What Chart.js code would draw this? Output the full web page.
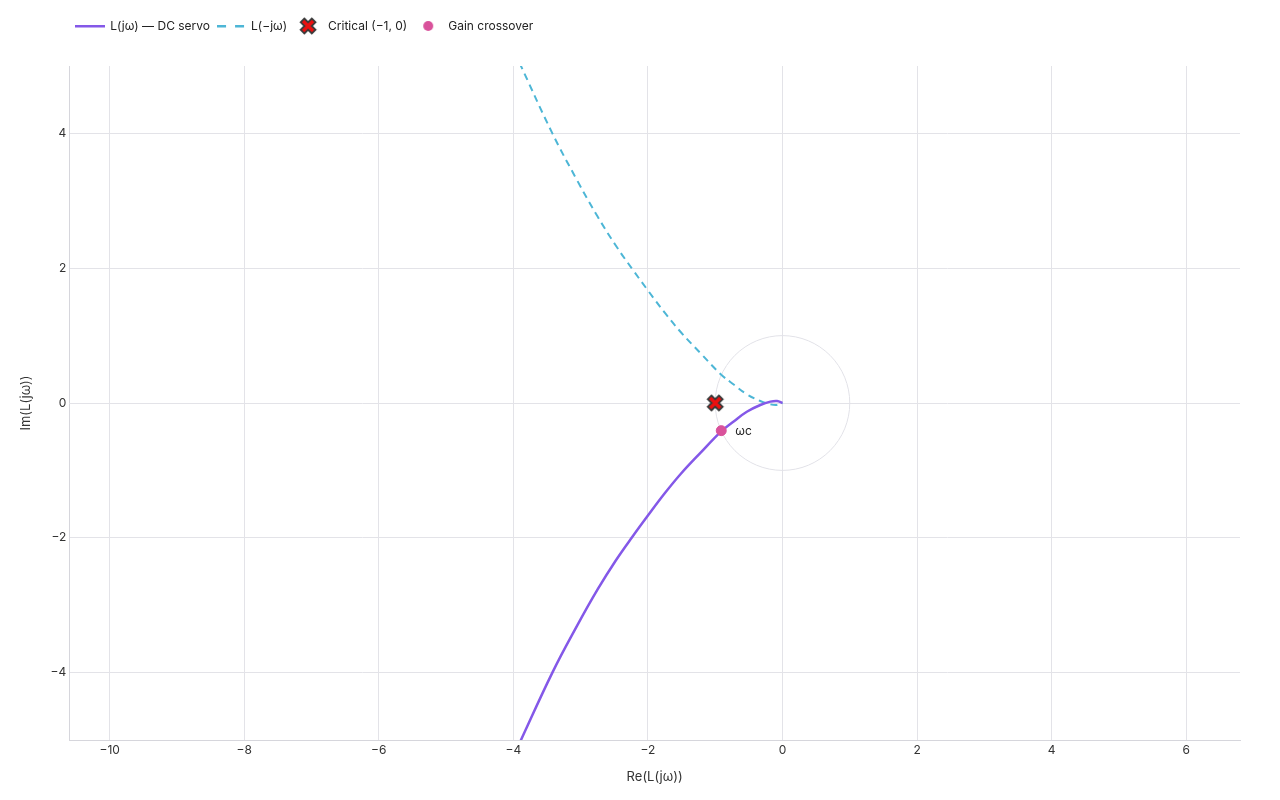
<!DOCTYPE html>
<html>
<head>
<meta charset="utf-8">
<script src="https://cdn.jsdelivr.net/npm/chart.js@4.4.1/dist/chart.umd.min.js"></script>
<style>
  html, body { margin: 0; padding: 0; background: #fff; }
  #wrap { width: 1280px; height: 800px; }
</style>
</head>
<body>
<div id="wrap"><canvas id="nyquist"></canvas></div>
<script>
/* ── data ── */
const RE_L = [-3.91, -3.42, -3.05, -2.75, -2.48, -2.22, -2.00, -1.75, -1.51, -1.22, -0.91, -0.72, -0.53, -0.33, -0.18, -0.08, 0.0];
const IM_L = [-5.05, -4.00, -3.30, -2.77, -2.34, -1.97, -1.67, -1.34, -1.05, -0.74, -0.42, -0.27, -0.13, -0.03, 0.02, 0.03, 0.0];
const CRITICAL  = [{ x: -1, y: 0 }];
const CROSSOVER = [{ x: -0.91, y: -0.41 }];
const X_TICKS = [-10, -8, -6, -4, -2, 0, 2, 4, 6];
const Y_TICKS = [-4, -2, 0, 2, 4];
const X_RANGE = [-10.6, 6.8];
const Y_RANGE = [-5, 5];
const UNIT_R  = 1;
const LABELS  = ['L(jω) — DC servo', 'L(−jω)', 'Critical (−1, 0)', 'Gain crossover'];

/* ── colours ── */
const C = {
  servo : '#8458e8',
  mirror: '#4db6d6',
  cross : '#d9529b',
  red   : '#ec1010',
  dark  : '#3a3a3a',
  grid  : '#e3e3e8',
  axis  : '#d6d6dc',
  ring  : '#e2e2e8',
  text  : '#222',
};

Chart.defaults.font  = { family: "Inter, 'Noto Sans', sans-serif", size: 12 };
Chart.defaults.color = '#333';

const fwd    = RE_L.map((x, i) => ({ x, y: IM_L[i] }));
const mirror = RE_L.map((x, i) => ({ x, y: -IM_L[i] }));   // L(-jw) = conj L(jw)

const minus = v => v < 0 ? '\u2212' + Math.abs(v) : String(v);

/* ── small canvas icons for markers and legend ── */
function icon(w, h, draw) {
  const c = document.createElement('canvas');
  c.width = w; c.height = h;
  draw(c.getContext('2d'), w, h);
  return c;
}
const xMark = icon(20, 20, (g, w, h) => {
  const cx = w / 2, cy = h / 2;
  [[C.dark, 7, 6.2], [C.red, 3.2, 5]].forEach(([col, lw, r]) => {
    g.strokeStyle = col; g.lineWidth = lw; g.lineCap = 'butt';
    g.beginPath();
    g.moveTo(cx - r, cy - r); g.lineTo(cx + r, cy + r);
    g.moveTo(cx + r, cy - r); g.lineTo(cx - r, cy + r);
    g.stroke();
  });
});
const solidIcon = icon(30, 4, (g, w) => {
  g.fillStyle = C.servo; g.fillRect(0, 1, w, 2.5);
});
const dashIcon = icon(28, 4, (g) => {
  g.fillStyle = C.mirror; g.fillRect(0, 1, 9, 2.5); g.fillRect(18, 1, 9, 2.5);
});
const dotIcon = icon(12, 12, (g) => {
  g.fillStyle = C.cross; g.beginPath(); g.arc(6, 6, 5, 0, Math.PI * 2); g.fill();
});
const legendIcons = [solidIcon, dashIcon, xMark, dotIcon];

/* ── plugins ── */
const legendGap = {
  id: 'legendGap',
  beforeInit(chart) {
    const fit = chart.legend.fit;
    chart.legend.fit = function () { fit.bind(chart.legend)(); this.height += 24; };
  }
};

const unitCircle = {
  id: 'unitCircle',
  beforeDatasetsDraw(chart) {
    const { ctx, chartArea: a, scales: { x, y } } = chart;
    const cx = x.getPixelForValue(0), cy = y.getPixelForValue(0);
    const rx = x.getPixelForValue(UNIT_R) - cx, ry = cy - y.getPixelForValue(UNIT_R);
    ctx.save();
    ctx.beginPath(); ctx.rect(a.left, a.top, a.width, a.height); ctx.clip();
    ctx.strokeStyle = C.ring; ctx.lineWidth = 1;
    ctx.beginPath(); ctx.ellipse(cx, cy, rx, ry, 0, 0, Math.PI * 2); ctx.stroke();
    ctx.restore();
  }
};

const wcLabel = {
  id: 'wcLabel',
  afterDatasetsDraw(chart) {
    const pt = chart.getDatasetMeta(3).data[0];
    if (!pt) return;
    const { ctx } = chart;
    ctx.save();
    ctx.font = "12px Inter, 'Noto Sans', sans-serif";
    ctx.fillStyle = C.text;
    ctx.textAlign = 'left'; ctx.textBaseline = 'middle';
    ctx.fillText('ωc', pt.x + 14, pt.y + 1);
    ctx.restore();
  }
};

/* ── chart ── */
new Chart(document.getElementById('nyquist'), {
  type: 'scatter',
  data: {
    datasets: [
      {
        label: LABELS[0], data: fwd, showLine: true,
        borderColor: C.servo, borderWidth: 2.5, tension: 0.4,
        pointRadius: 0, clip: 0, order: 2,
      },
      {
        label: LABELS[1], data: mirror, showLine: true,
        borderColor: C.mirror, borderWidth: 2, borderDash: [7, 5], tension: 0.4,
        pointRadius: 0, clip: 0, order: 3,
      },
      {
        label: LABELS[2], data: CRITICAL,
        pointStyle: xMark, pointRadius: 9, order: 1,
      },
      {
        label: LABELS[3], data: CROSSOVER,
        backgroundColor: C.cross, borderColor: C.cross,
        pointStyle: 'circle', pointRadius: 5, order: 0,
      },
    ]
  },
  options: {
    responsive: true,
    maintainAspectRatio: false,
    animation: false,
    layout: { padding: { top: 13, left: 10, right: 40, bottom: 10 } },
    plugins: {
      legend: {
        position: 'top', align: 'start', fullSize: false,
        labels: {
          usePointStyle: true, pointStyleWidth: 28, padding: 7,
          color: C.text, font: { size: 12 },
          generateLabels: () => LABELS.map((text, i) => ({
            text, pointStyle: legendIcons[i], datasetIndex: i,
            fillStyle: 'transparent', strokeStyle: 'transparent',
            lineWidth: 0, hidden: false, fontColor: C.text,
          })),
        },
      },
      tooltip: { enabled: false },
    },
    scales: {
      x: {
        type: 'linear', min: X_RANGE[0], max: X_RANGE[1],
        afterBuildTicks: s => { s.ticks = X_TICKS.map(value => ({ value })); },
        grid: { color: C.grid, drawTicks: false },
        border: { color: C.axis },
        ticks: { padding: 3, callback: minus, color: '#333' },
        title: { display: true, text: 'Re(L(jω))', color: '#333', font: { size: 13 },
                 padding: { top: 9, bottom: 5 } },
      },
      y: {
        type: 'linear', min: Y_RANGE[0], max: Y_RANGE[1],
        afterBuildTicks: s => { s.ticks = Y_TICKS.map(value => ({ value })); },
        grid: { color: C.grid, drawTicks: false },
        border: { color: C.axis },
        ticks: { padding: 3, callback: minus, color: '#333' },
        title: { display: true, text: 'Im(L(jω))', color: '#333', font: { size: 13 },
                 padding: { top: 8, bottom: 14 } },
      },
    },
  },
  plugins: [legendGap, unitCircle, wcLabel],
});
</script>
</body>
</html>
